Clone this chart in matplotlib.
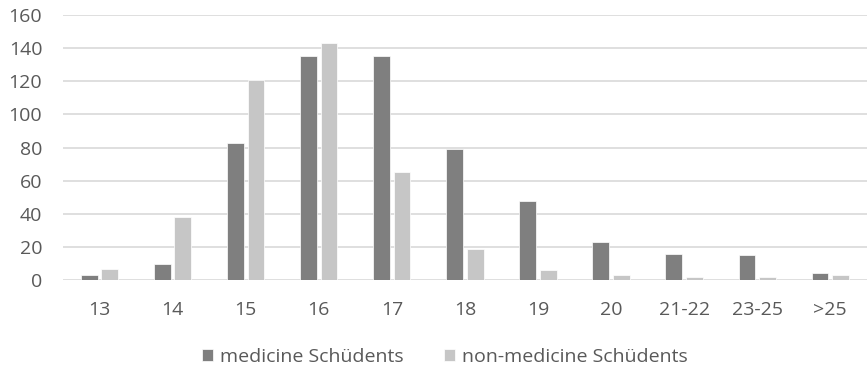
import matplotlib
matplotlib.use("Agg")
import matplotlib.pyplot as plt
import numpy as np

categories = ["13", "14", "15", "16", "17", "18", "19", "20", "21-22", "23-25", ">25"]
medicine = [3, 10, 83, 135, 135, 79, 48, 23, 16, 15, 4]
non_medicine = [7, 38, 121, 143, 65, 19, 6, 3, 2, 2, 3]
series_names = ["medicine Schüdents", "non-medicine Schüdents"]
y_ticks = [0, 20, 40, 60, 80, 100, 120, 140, 160]

plt.rcParams["font.family"] = ["Open Sans", "DejaVu Sans"]
text_color = "#595959"
dark, light = "#7f7f7f", "#c6c6c6"
fs = 14

fig = plt.figure(figsize=(8.67, 3.73), dpi=100)
ax = fig.add_axes([0.0727, 0.249, 0.927, 0.711])

x = np.arange(len(categories))
w = 0.23
gap = 0.05
ax.bar(x - (w + gap) / 2, medicine, w, color=dark, edgecolor="white", linewidth=0.5,
       label=series_names[0], zorder=3)
ax.bar(x + (w + gap) / 2, non_medicine, w, color=light, edgecolor="white", linewidth=0.5,
       label=series_names[1], zorder=3)

ax.set_xlim(-0.5, len(categories) - 0.5)
ax.set_ylim(0, 160)
ax.set_yticks(y_ticks)
ax.set_xticks(x)
ax.set_xticklabels(categories)
ax.yaxis.grid(True, color="#d9d9d9", linewidth=1.2, zorder=0)
ax.set_axisbelow(True)
for s in ax.spines.values():
    s.set_visible(False)
ax.tick_params(length=0, labelsize=fs, colors=text_color)
ax.tick_params(axis="x", pad=15)
ax.tick_params(axis="y", pad=15)

leg = fig.legend(loc="center", bbox_to_anchor=(0.513, 0.043), ncol=2, frameon=False,
                 fontsize=fs, handlelength=0.57, handleheight=0.57, handletextpad=0.36,
                 columnspacing=2.1)
for t in leg.get_texts():
    t.set_color(text_color)

fig.savefig("out.png", dpi=100, facecolor="white")
